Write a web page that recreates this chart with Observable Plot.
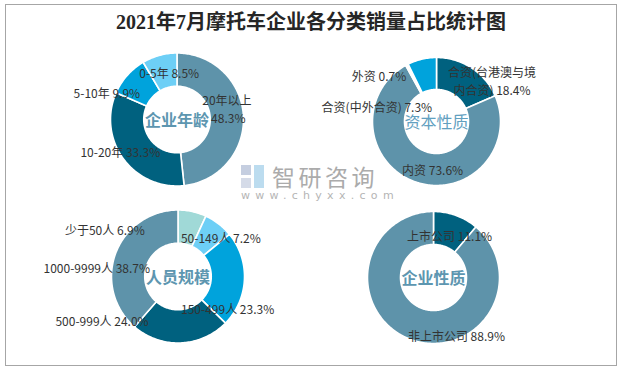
<!DOCTYPE html>
<html><head><meta charset="utf-8">
<script src="https://cdn.jsdelivr.net/npm/d3@7"></script>
<script src="https://cdn.jsdelivr.net/npm/@observablehq/plot@0.6"></script>
<style>
body{margin:0;background:#fff;}
#wrap{position:relative;width:622px;height:369px;overflow:hidden;font-family:"Noto Sans CJK SC",sans-serif;}
#frame{position:absolute;left:5px;top:4px;width:612px;height:362px;border:1.5px solid #a6a6a6;box-sizing:border-box;}
#title{position:relative;height:40px;line-height:44px;text-align:center;font-family:"Liberation Serif","Noto Sans CJK SC",serif;font-weight:bold;font-size:20px;color:#262626;white-space:nowrap;}
#chart{position:relative;display:block;}
#wm{position:absolute;left:241px;top:163px;width:140px;height:40px;pointer-events:none;}
#wm .icon{position:absolute;left:0;top:2px;width:23px;height:23px;}
#wm .icon .a{position:absolute;left:0;top:0;width:10px;height:10px;background:#c5cee0;}
#wm .icon .b{position:absolute;left:0;top:13px;width:10px;height:10px;background:#d5dbe8;}
#wm .icon .c{position:absolute;left:13px;top:0;width:10px;height:23px;background:#bcdcef;}
#wm .cn{position:absolute;left:31px;top:-4px;font-size:23px;letter-spacing:3.5px;color:#ababab;white-space:nowrap;}
#wm .en{position:absolute;left:0;top:26px;font-size:11px;letter-spacing:5.3px;color:#b5b5b5;white-space:nowrap;font-family:"DejaVu Sans",sans-serif;}
</style></head>
<body>
<div id="wrap">
<div id="frame"></div>
<div id="title">2021年7月摩托车企业各分类销量占比统计图</div>
<div id="chart"></div>
<div id="wm"><div class="icon"><div class="a"></div><div class="b"></div><div class="c"></div></div><div class="cn">智研咨询</div><div class="en">www.chyxx.com</div></div>
</div>
<script>
// ---- data ----
const ageCats = ["20年以上", "10-20年", "5-10年", "0-5年"];
const ageVals = [48.3, 33.3, 9.9, 8.5];
const capCats = ["合资(台港澳与境内合资)", "内资", "外资", "合资(中外合资)"];
const capVals = [18.4, 73.6, 0.7, 7.3];
const staffCats = ["少于50人", "50-149人", "150-499人", "500-999人", "1000-9999人"];
const staffVals = [6.9, 7.2, 23.3, 24.0, 38.7];
const typeCats = ["上市公司", "非上市公司"];
const typeVals = [11.1, 88.9];
const chartTitles = ["企业年龄", "资本性质", "人员规模", "企业性质"];

// ---- layout / style ----
const GRAY = "#5e93aa", DARK = "#00617f", BLUE = "#00a3dc", LIGHT = "#6dcff6", TEAL = "#a0d9d7";
const panels = [
  {cats: ageCats, vals: ageVals, cx: 176.5, cy: 119, r: 66.5, bold: true,
   colors: [GRAY, DARK, BLUE, LIGHT],
   nudge: [[1, -9, 6], [-16, 1.5], [-32.5, 6], [5.5, 1]]},
  {cats: capCats, vals: capVals, cx: 436, cy: 121, r: 64, bold: false,
   colors: [DARK, GRAY, "#ffffff", BLUE],
   nudge: [[29, -1, 8], [11.7, 1.5], [-35, -3.4], [-48.6, 31.7]]},
  {cats: staffCats, vals: staffVals, cx: 177.5, cy: 276, r: 66.5, bold: true,
   colors: [TEAL, LIGHT, BLUE, DARK, GRAY],
   nudge: [[-84, 2], [12, 1], [-0.7, 29], [-78, -6.7], [-34, 8.5]]},
  {cats: typeCats, vals: typeVals, cx: 433, cy: 277, r: 66, bold: true,
   colors: [DARK, GRAY],
   nudge: [[-1, 4.3], [40, 10.7]]}
];
const innerRatio = 0.5;

const marks = [];
const labels = [];
const centers = [];
panels.forEach((p, pi) => {
  const total = d3.sum(p.vals);
  let acc = 0;
  const rIn = p.r * innerRatio, rMid = (p.r + rIn) / 2 + 0.5;
  p.vals.forEach((v, i) => {
    const a0 = acc / total * 2 * Math.PI;
    acc += v;
    const a1 = acc / total * 2 * Math.PI;
    const n = Math.max(2, Math.ceil((a1 - a0) / 0.02));
    const pts = [];
    for (let k = 0; k <= n; k++) {
      const a = a0 + (a1 - a0) * k / n;
      pts.push({x: p.cx + p.r * Math.sin(a), y: p.cy - p.r * Math.cos(a)});
    }
    for (let k = n; k >= 0; k--) {
      const a = a0 + (a1 - a0) * k / n;
      pts.push({x: p.cx + rIn * Math.sin(a), y: p.cy - rIn * Math.cos(a)});
    }
    pts.push({...pts[0]});
    marks.push(Plot.line(pts, {x: "x", y: "y", fill: p.colors[i], stroke: "#ffffff", strokeWidth: 1.6, curve: "linear"}));
    const am = (a0 + a1) / 2;
    const nd = p.nudge[i];
    let s = p.cats[i] + " " + v.toFixed(1) + "%";
    if (nd[2]) s = s.slice(0, nd[2]) + "\n" + s.slice(nd[2]).trim();
    labels.push({x: p.cx + rMid * Math.sin(am) + nd[0], y: p.cy - rMid * Math.cos(am) + nd[1], text: s});
  });
  centers.push({x: p.cx, y: p.cy + 1.5, text: chartTitles[pi], bold: p.bold});
});

marks.push(Plot.text(labels, {x: "x", y: "y", text: "text", fontSize: 12, fill: "#333333", lineAnchor: "middle", lineHeight: 1.5}));
marks.push(Plot.text(centers.filter(d => d.bold), {x: "x", y: "y", text: "text", fontSize: 16, fontWeight: "bold", fill: "#5d96b0", stroke: "#ffffff", strokeWidth: 2, lineAnchor: "middle"}));
marks.push(Plot.text(centers.filter(d => !d.bold), {x: "x", y: "y", text: "text", fontSize: 16, fill: "#62a0c0", lineAnchor: "middle"}));

const svg = Plot.plot({
  width: 622, height: 329,
  margin: 0,
  x: {domain: [0, 622], range: [0, 622], axis: null},
  y: {domain: [40, 369], range: [0, 329], axis: null},
  style: {fontFamily: "'Noto Sans CJK SC', sans-serif", background: "transparent", overflow: "visible"},
  marks
});
document.getElementById("chart").appendChild(svg);
</script>
</body></html>
